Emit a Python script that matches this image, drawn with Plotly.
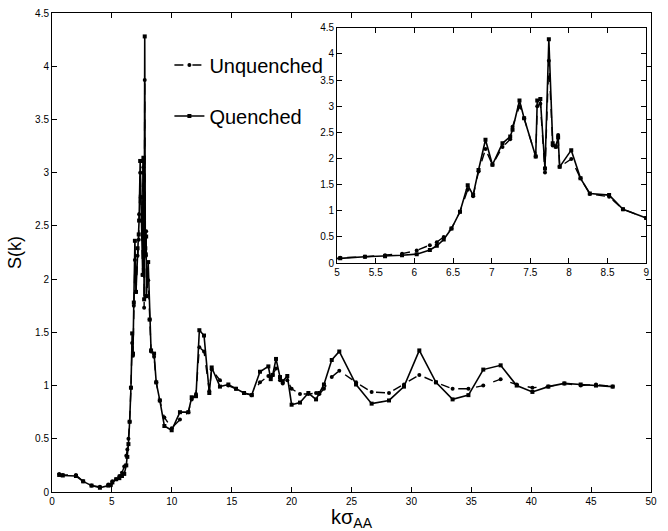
import plotly.graph_objects as go

k = [0.6, 0.9, 2.0, 2.6, 3.3, 4.0, 4.7, 4.9,
     5.04, 5.36, 5.62, 5.84, 6.03, 6.2, 6.29, 6.38, 6.48, 6.59, 6.69, 6.76, 6.83, 6.92, 7.01,
     7.14, 7.24, 7.27, 7.36, 7.42, 7.57, 7.59, 7.63, 7.69, 7.74, 7.79, 7.83, 7.86, 7.88,
     8.03, 8.15, 8.27, 8.52, 8.70, 9.0,
     9.38, 9.99, 10.68, 11.38, 11.66, 12.02, 12.30, 12.69, 13.13, 13.33, 14.02, 14.72,
     15.36, 16.03, 16.67, 17.36, 18.06, 18.26, 18.42, 18.70, 19.03, 19.26, 19.64, 20.0,
     20.70, 21.4, 22.04, 22.31, 22.7, 23.35, 23.98, 25.38, 26.68, 28.13, 29.38, 30.66,
     32.05, 33.44, 34.76, 36.0, 37.45, 38.79, 40.1, 41.43, 42.77, 44.13, 45.41, 46.80]

s_quenched = [0.16, 0.155, 0.15, 0.10, 0.06, 0.04, 0.06, 0.065,
              0.09, 0.12, 0.13, 0.15, 0.17, 0.25, 0.33, 0.45, 0.66, 0.98, 1.49, 1.30, 1.78, 2.36, 1.88,
              2.29, 2.42, 2.55, 3.11, 2.77, 2.04, 3.11, 3.14, 1.81, 4.28, 2.29, 2.23, 2.40, 1.84,
              2.16, 1.62, 1.33, 1.30, 1.03, 0.86,
              0.62, 0.58, 0.75, 0.75, 0.89, 0.90, 1.52, 1.47, 0.93, 1.17, 0.99, 1.01,
              0.97, 0.93, 0.91, 1.13, 1.18, 1.06, 1.10, 1.25, 1.08, 1.04, 1.09, 0.82,
              0.84, 0.93, 0.87, 0.93, 1.01, 1.24, 1.32, 1.01, 0.83, 0.86, 0.99, 1.33,
              1.03, 0.87, 0.91, 1.15, 1.19, 1.00, 0.94, 0.99, 1.02, 1.01, 1.00, 0.99]

s_unquenched = [0.17, 0.16, 0.16, 0.10, 0.06, 0.05, 0.07, 0.07,
                0.10, 0.12, 0.15, 0.18, 0.24, 0.34, 0.40, 0.50, 0.66, 0.98, 1.40, 1.28, 1.75, 2.18, 1.88,
                2.22, 2.37, 2.61, 3.00, 2.77, 2.04, 3.00, 3.05, 1.73, 3.87, 2.25, 2.22, 2.45, 1.84,
                1.99, 1.62, 1.32, 1.27, 1.03, 0.86,
                0.70, 0.60, 0.68, 0.75, 0.87, 0.92, 1.36, 1.32, 0.95, 1.15, 1.05, 1.00,
                0.97, 0.93, 0.91, 1.03, 1.09, 1.08, 1.10, 1.16, 1.05, 1.02, 1.05, 0.97,
                0.92, 0.92, 0.93, 0.92, 0.97, 1.08, 1.14, 1.03, 0.94, 0.93, 1.01, 1.10,
                1.03, 0.97, 0.97, 1.00, 1.06, 1.01, 0.98, 0.99, 1.02, 1.00, 1.01, 0.99]

main_xticks = [0, 5, 10, 15, 20, 25, 30, 35, 40, 45, 50]
main_yticks = [0, 0.5, 1, 1.5, 2, 2.5, 3, 3.5, 4, 4.5]
inset_xticks = [5, 5.5, 6, 6.5, 7, 7.5, 8, 8.5, 9]
inset_yticks = [0, 0.5, 1, 1.5, 2, 2.5, 3, 3.5, 4, 4.5]

inset_k = [kk for kk in k if 4.9 <= kk <= 9.0]
inset_q = [s for kk, s in zip(k, s_quenched) if 4.9 <= kk <= 9.0]
inset_u = [s for kk, s in zip(k, s_unquenched) if 4.9 <= kk <= 9.0]

FONT = "Liberation Sans, Arial, sans-serif"

fig = go.Figure()
fig.add_trace(go.Scatter(x=k, y=s_unquenched, name="Unquenched", mode="lines+markers",
                         line=dict(color="black", width=1.4, dash="dash"),
                         marker=dict(symbol="circle", size=4, color="black"),
                         legendgroup="u"))
fig.add_trace(go.Scatter(x=k, y=s_quenched, name="Quenched", mode="lines+markers",
                         line=dict(color="black", width=1.6),
                         marker=dict(symbol="square", size=4, color="black"),
                         legendgroup="q"))
fig.add_trace(go.Scatter(x=inset_k, y=inset_u, mode="lines+markers", showlegend=False,
                         line=dict(color="black", width=1.4, dash="dash"),
                         marker=dict(symbol="circle", size=4, color="black"),
                         xaxis="x2", yaxis="y2"))
fig.add_trace(go.Scatter(x=inset_k, y=inset_q, mode="lines+markers", showlegend=False,
                         line=dict(color="black", width=1.6),
                         marker=dict(symbol="square", size=4, color="black"),
                         xaxis="x2", yaxis="y2"))

axis_common = dict(showline=True, linecolor="black", linewidth=1, mirror="ticks",
                   ticks="inside", ticklen=5, tickcolor="black", showgrid=False,
                   zeroline=False, automargin=False,
                   tickfont=dict(family=FONT, size=10, color="black"))

fig.update_layout(
    template="none",
    width=668, height=531,
    margin=dict(l=52, r=17, t=13, b=39),
    paper_bgcolor="white", plot_bgcolor="white",
    font=dict(family=FONT, color="black"),
    xaxis=dict(range=[0, 50], tickvals=main_xticks, ticktext=[str(v) for v in main_xticks],
               domain=[0, 1],
               title=dict(text="kσ<sub>AA</sub>", font=dict(family=FONT, size=20), standoff=0),
               **axis_common),
    yaxis=dict(range=[0, 4.5], tickvals=main_yticks, ticktext=[f"{v:g}" for v in main_yticks],
               domain=[0, 1],
               title=dict(text="S(k)", font=dict(family=FONT, size=18), standoff=8),
               **axis_common),
    xaxis2=dict(range=[5, 9], tickvals=inset_xticks, ticktext=[f"{v:g}" for v in inset_xticks],
                domain=[0.476, 0.992], anchor="y2", **axis_common),
    yaxis2=dict(range=[0, 4.5], tickvals=inset_yticks, ticktext=[f"{v:g}" for v in inset_yticks],
                domain=[0.478, 0.969], anchor="x2", **axis_common),
    showlegend=True,
    legend=dict(x=0.196, y=0.932, xanchor="left", yanchor="top",
                font=dict(family=FONT, size=20, color="black"),
                bgcolor="rgba(0,0,0,0)", tracegroupgap=22, itemwidth=30),
)

fig.write_html("out.html")
